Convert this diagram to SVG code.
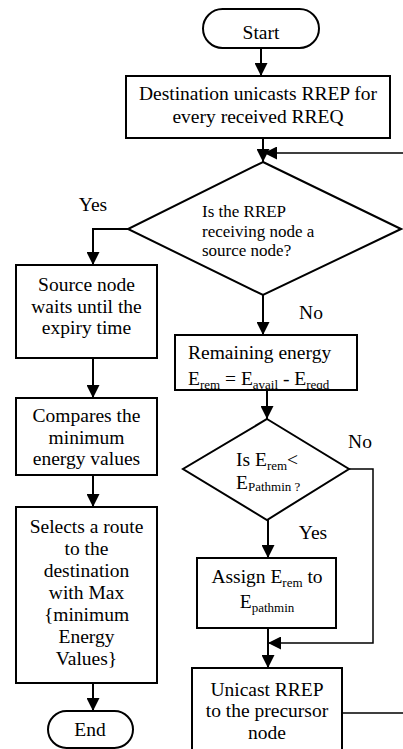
<svg xmlns="http://www.w3.org/2000/svg" width="403" height="749" viewBox="0 0 403 749" font-family="'Liberation Serif', 'DejaVu Serif', 'Times New Roman', serif">
<style>
.box{fill:#fff;stroke:#000;stroke-width:2}
.ln{fill:none;stroke:#000;stroke-width:2}
text{font-family:'Liberation Serif','DejaVu Serif','Times New Roman',serif;font-size:19.5px;fill:#000}
.c{text-anchor:middle}
.s{font-size:13px}
.d{font-size:17px}
</style>
<defs>
<marker id="ah" markerUnits="userSpaceOnUse" markerWidth="13" markerHeight="13" refX="13" refY="6.5" orient="auto">
<path d="M0,0 L13,6.5 L0,13 z" fill="#000"/>
</marker>
<clipPath id="remclip"><rect x="175" y="335" width="182" height="54"/></clipPath>
</defs>
<g id="connectors">
<line class="ln" x1="261" y1="48" x2="261" y2="76" marker-end="url(#ah)"/>
<line class="ln" x1="263" y1="138" x2="263" y2="162" marker-end="url(#ah)"/>
<path class="ln" style="stroke-width:1.5" d="M342,713 H415 V153 H264" marker-end="url(#ah)"/>
<path class="ln" d="M128,229 H93 V265" marker-end="url(#ah)"/>
<line class="ln" x1="263" y1="295" x2="263" y2="335" marker-end="url(#ah)"/>
<line class="ln" x1="267" y1="390" x2="267" y2="419" marker-end="url(#ah)"/>
<path class="ln" style="stroke-width:1.5" d="M349,469 H373 V643 H268" marker-end="url(#ah)"/>
<line class="ln" x1="268" y1="520" x2="268" y2="558" marker-end="url(#ah)"/>
<line class="ln" x1="268" y1="628" x2="268" y2="668" marker-end="url(#ah)"/>
<line class="ln" x1="93" y1="358" x2="93" y2="398" marker-end="url(#ah)"/>
<line class="ln" x1="93" y1="475" x2="93" y2="507" marker-end="url(#ah)"/>
<line class="ln" x1="93" y1="683" x2="93" y2="711" marker-end="url(#ah)"/>
</g>
<g id="labels">
<text class="c" x="93" y="211">Yes</text>
<text class="c" x="311" y="319">No</text>
<text class="c" x="360" y="448">No</text>
<text class="c" x="313" y="539">Yes</text>
</g>
<g id="start">
<rect class="box" x="203" y="9" width="116" height="39" rx="19.5"/>
<text class="c" x="261" y="39">Start</text>
</g>
<g id="dest">
<rect class="box" x="126" y="76" width="264" height="62"/>
<text class="c" x="258" y="100">Destination unicasts RREP for</text>
<text class="c" x="258" y="123">every received RREQ</text>
</g>
<g id="decision1">
<polygon class="box" points="263,162 401,229 263,295 128,229"/>
<text class="d" x="202" y="217">Is the RREP</text>
<text class="d" x="202" y="237">receiving node a</text>
<text class="d" x="202" y="256">source node?</text>
</g>
<g id="remaining">
<rect class="box" x="175" y="335" width="182" height="55"/>
<text x="188" y="359">Remaining energy</text>
<text x="188" y="385" clip-path="url(#remclip)">E<tspan class="s" dy="4">rem</tspan><tspan dy="-4"> = E</tspan><tspan class="s" dy="4">avail</tspan><tspan dy="-4"> - E</tspan><tspan class="s" dy="4">reqd</tspan></text>
</g>
<g id="decision2">
<polygon class="box" points="267,419 349,469 267,520 183,469"/>
<text x="236" y="466">Is E<tspan class="s" dy="4">rem</tspan><tspan dy="-4">&lt;</tspan></text>
<text x="236" y="489">E<tspan class="s" dy="2">Pathmin ?</tspan></text>
</g>
<g id="assign">
<rect class="box" x="197" y="558" width="139" height="70"/>
<text class="c" x="267" y="583">Assign E<tspan class="s" dy="4">rem</tspan><tspan dy="-4"> to</tspan></text>
<text class="c" x="267" y="608">E<tspan class="s" dy="4">pathmin</tspan></text>
</g>
<g id="unicast">
<rect class="box" x="192" y="668" width="150" height="95"/>
<text class="c" x="267" y="696">Unicast RREP</text>
<text class="c" x="267" y="717">to the precursor</text>
<text class="c" x="267" y="739">node</text>
</g>
<g id="source">
<rect class="box" x="16" y="265" width="141" height="93"/>
<text class="c" x="86.5" y="291">Source node</text>
<text class="c" x="86.5" y="313">waits until the</text>
<text class="c" x="86.5" y="334">expiry time</text>
</g>
<g id="compares">
<rect class="box" x="16" y="398" width="141" height="77"/>
<text class="c" x="86.5" y="422">Compares the</text>
<text class="c" x="86.5" y="444">minimum</text>
<text class="c" x="86.5" y="465">energy values</text>
</g>
<g id="selects">
<rect class="box" x="16" y="507" width="141" height="176"/>
<text class="c" x="86.5" y="533">Selects a route</text>
<text class="c" x="86.5" y="555">to the</text>
<text class="c" x="86.5" y="577">destination</text>
<text class="c" x="86.5" y="599">with Max</text>
<text class="c" x="86.5" y="621">{minimum</text>
<text class="c" x="86.5" y="643">Energy</text>
<text class="c" x="86.5" y="665">Values}</text>
</g>
<g id="end">
<rect class="box" x="48" y="711" width="85" height="37" rx="18.5"/>
<text class="c" x="90" y="736">End</text>
</g>
</svg>
